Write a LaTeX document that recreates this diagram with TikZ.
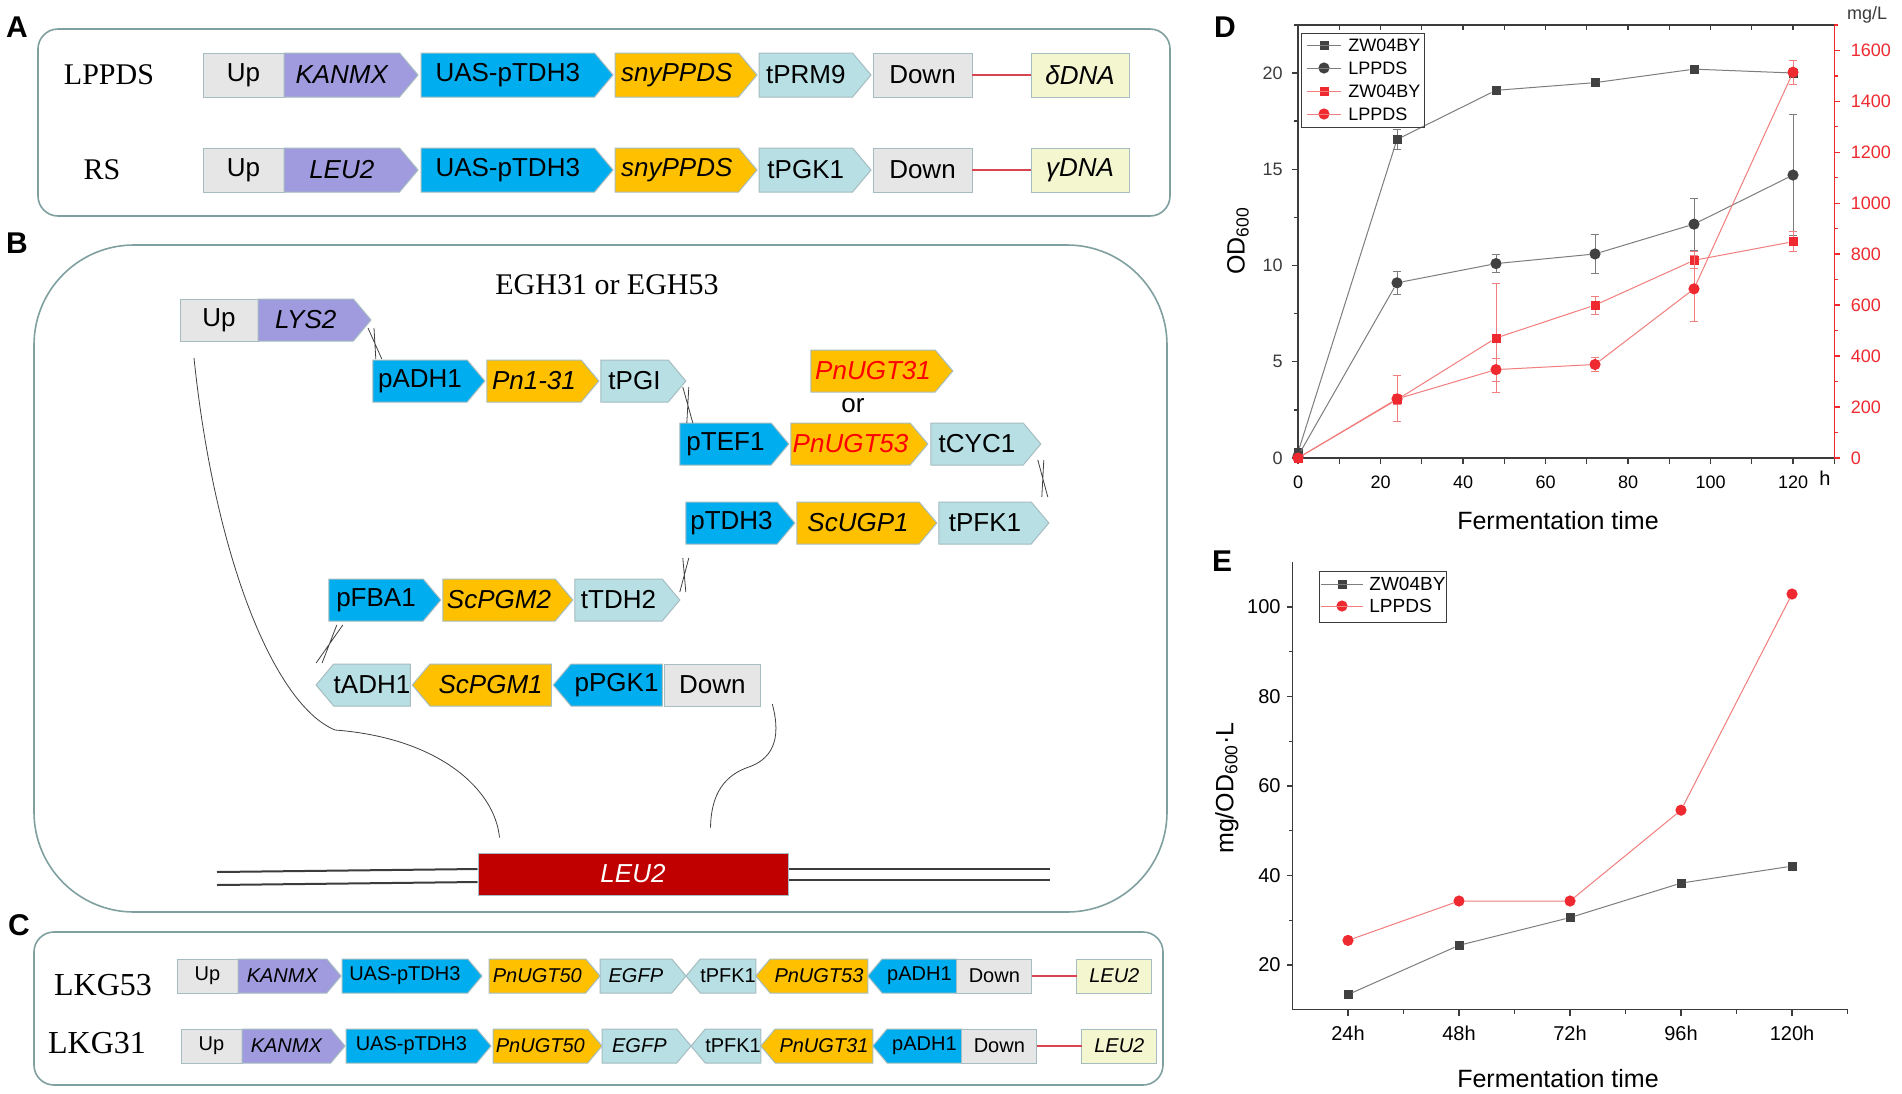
\documentclass[tikz,border=0pt]{standalone}
\usepackage{fontspec}
\setmainfont{Liberation Sans}
\newfontfamily\strainfont{Liberation Serif}
\usetikzlibrary{positioning,shapes.symbols}

\definecolor{flankgrey}{RGB}{230,230,230}
\definecolor{selpurple}{RGB}{160,155,222}
\definecolor{promblue}{RGB}{0,174,239}
\definecolor{cdsorange}{RGB}{255,192,0}
\definecolor{termcyan}{RGB}{183,223,228}
\definecolor{dnayellow}{RGB}{244,246,208}
\definecolor{partedge}{RGB}{165,188,192}
\definecolor{frameteal}{RGB}{128,160,160}
\definecolor{leured}{RGB}{192,0,0}
\definecolor{ugtred}{RGB}{255,0,0}
\definecolor{linkred}{RGB}{215,70,80}
\definecolor{axisgrey}{RGB}{60,60,60}
\definecolor{plotgrey}{RGB}{125,125,125}
\definecolor{markgrey}{RGB}{65,65,65}
\definecolor{plotred}{RGB}{238,42,48}
\definecolor{plotpink}{RGB}{242,125,125}

\tikzset{
  part/.style={draw=partedge, line width=0.5pt, inner sep=0pt, outer sep=0pt},
  fwd/.style={part, shape=signal, signal to=east, signal pointer angle=100},
  rev/.style={part, shape=signal, signal to=west, signal pointer angle=100},
  flank/.style={part, fill=flankgrey},
  selm/.style={fwd, fill=selpurple},
  prom/.style={fwd, fill=promblue},
  cds/.style={fwd, fill=cdsorange},
  term/.style={fwd, fill=termcyan},
  rprom/.style={rev, fill=promblue},
  rcds/.style={rev, fill=cdsorange},
  rterm/.style={rev, fill=termcyan},
  target/.style={part, fill=dnayellow},
  panel/.style={draw=frameteal, line width=0.8pt},
  tag/.style={font=\fontsize{15}{15}\selectfont\bfseries},
  strain/.style={font=\strainfont\fontsize{15}{15}\selectfont},
  joint/.style={draw=markgrey, line width=0.4pt},
  redlink/.style={draw=linkred, line width=0.8pt},
  dna/.style={draw=axisgrey, line width=1pt},
  axisline/.style={draw=axisgrey, line width=0.7pt},
  redaxis/.style={draw=plotred, line width=0.7pt},
  ticklbl/.style={font=\fontsize{9}{9}\selectfont, inner sep=1.5pt},
  axtitle/.style={font=\fontsize{12.5}{12.5}\selectfont},
  sqmark/.style={rectangle, minimum size=4.5pt, inner sep=0pt, outer sep=0pt},
  dotmark/.style={circle, minimum size=5.6pt, inner sep=0pt, outer sep=0pt},
  greyline/.style={draw=plotgrey, line width=0.5pt},
  pinkline/.style={draw=plotpink, line width=0.5pt},
  errgrey/.style={draw=plotgrey, line width=0.5pt},
  errpink/.style={draw=plotpink, line width=0.5pt},
}

\begin{document}
\begin{tikzpicture}[x=0.5pt, y=-0.5pt]
\fill[white] (0,0) rectangle (1902,1093);
\useasboundingbox (0,0) rectangle (1902,1093);

% ---------- A ----------
\node[tag] (tagA) at (17,27) {A};
\draw[panel, rounded corners=10pt] (38,29) rectangle (1170,216);
\node[strain] (lppds) at (109,75) {LPPDS};
\node[strain] (rs) at (102,170) {RS};
\begin{scope}[every node/.append style={minimum height=22pt, font=\fontsize{13}{15}\selectfont}]
  \node[flank, minimum width=40.5pt] (upA) at (243.5,75) {Up};
  \node[selm, minimum width=67pt, right=0pt of upA] (kanA) {\itshape KANMX};
  \node[prom, minimum width=96pt, right=1.5pt of kanA] (uasA) {UAS-pTDH3};
  \node[cds, minimum width=71pt, right=1pt of uasA] (ppdsA) {\itshape snyPPDS};
  \node[term, minimum width=56pt, right=1pt of ppdsA] (tprmA) {tPRM9};
  \node[flank, minimum width=49.5pt, right=1pt of tprmA] (downA) {Down};
  \node[target, minimum width=49pt, right=29.5pt of downA] (deltaA) {\itshape δDNA};
  \draw[redlink] (downA) -- (deltaA);

  \node[flank, minimum width=40.5pt] (upR) at (243.5,170) {Up};
  \node[selm, minimum width=67pt, right=0pt of upR] (leuR) {\itshape LEU2};
  \node[prom, minimum width=96pt, right=1.5pt of leuR] (uasR) {UAS-pTDH3};
  \node[cds, minimum width=71pt, right=1pt of uasR] (ppdsR) {\itshape snyPPDS};
  \node[term, minimum width=56pt, right=1pt of ppdsR] (tpgkR) {tPGK1};
  \node[flank, minimum width=49.5pt, right=1pt of tpgkR] (downR) {Down};
  \node[target, minimum width=49pt, right=29.5pt of downR] (gammaR) {\itshape γDNA};
  \draw[redlink] (downR) -- (gammaR);
\end{scope}

% ---------- B ----------
\node[tag] (tagB) at (17,243) {B};
\draw[panel, rounded corners=50pt] (34,245) rectangle (1167,912);
\node[strain] (egh) at (607,285) {EGH31 or EGH53};
\begin{scope}[every node/.append style={minimum height=21pt, font=\fontsize{13}{15}\selectfont}]
  \node[flank, minimum width=39pt] (upB) at (219,320) {Up};
  \node[selm, minimum width=56.5pt, right=0pt of upB] (lysB) {\itshape LYS2};

  \node[prom, minimum width=56pt] (padhB) at (420,381) {pADH1};
  \node[cds, minimum width=56pt, right=1pt of padhB] (pn131B) {\itshape Pn1-31};
  \node[term, minimum width=42.5pt, right=1pt of pn131B] (tpgiB) {tPGI};

  \node[cds, minimum width=71pt] (ugt31B) at (873,371) {\color{ugtred}\itshape PnUGT31};
  \node (orB) at (853,406) {or};

  \node[prom, minimum width=54.5pt] (ptefB) at (725.5,444) {pTEF1};
  \node[cds, minimum width=68.5pt, right=1pt of ptefB] (ugt53B) {\color{ugtred}\itshape PnUGT53};
  \node[term, minimum width=55pt, right=1.5pt of ugt53B] (tcycB) {tCYC1};

  \node[prom, minimum width=54.5pt] (ptdhB) at (731.5,523) {pTDH3};
  \node[cds, minimum width=70pt, right=1pt of ptdhB] (ugp1B) {\itshape ScUGP1};
  \node[term, minimum width=55pt, right=1pt of ugp1B] (tpfkB) {tPFK1};

  \node[prom, minimum width=56pt] (pfbaB) at (376,600) {pFBA1};
  \node[cds, minimum width=65pt, right=1pt of pfbaB] (pgm2B) {\itshape ScPGM2};
  \node[term, minimum width=52.5pt, right=1pt of pgm2B] (ttdhB) {tTDH2};

  \node[rterm, minimum width=44pt] (tadhB) at (372,685) {tADH1};
  \node[rcds, minimum width=69.5pt, right=1pt of tadhB] (pgm1B) {\itshape ScPGM1};
  \node[rprom, minimum width=54.5pt, right=1pt of pgm1B] (ppgkB) {pPGK1};
  \node[flank, minimum width=48pt, right=1pt of ppgkB] (downB) {Down};

  \node[fill=leured, draw=partedge, line width=0.5pt, minimum width=155pt, text=white] (leuB) at (633,874) {\itshape LEU2};
\end{scope}

% joints between cassettes
\draw[joint] ([xshift=-1.5pt,yshift=-4pt]lysB.east) -- ([xshift=4.5pt,yshift=11pt]padhB.west)
             ([xshift=1.5pt,yshift=-4pt]lysB.east) -- ([xshift=1.5pt,yshift=11pt]padhB.west);
\draw[joint] ([xshift=-1.5pt,yshift=-3pt]tpgiB.east) -- ([xshift=6.5pt,yshift=10.5pt]ptefB.west)
             ([xshift=1.5pt,yshift=-3pt]tpgiB.east) -- ([xshift=3.5pt,yshift=10.5pt]ptefB.west);
\draw[joint] ([xshift=-1.5pt,yshift=-8pt]tcycB.east) -- ([xshift=-0.5pt,yshift=13pt]tpfkB.east)
             ([xshift=1.5pt,yshift=-8pt]tcycB.east) -- ([xshift=-3.5pt,yshift=13pt]tpfkB.east);
\draw[joint] ([xshift=-1.5pt,yshift=-17.5pt]ptdhB.west) -- ([xshift=3pt,yshift=4pt]ttdhB.east)
             ([xshift=1.5pt,yshift=-17.5pt]ptdhB.west) -- ([xshift=0pt,yshift=4pt]ttdhB.east);
\draw[joint] ([xshift=4pt,yshift=-12.5pt]pfbaB.west) -- ([xshift=3pt,yshift=11pt]tadhB.west)
             ([xshift=7pt,yshift=-12.5pt]pfbaB.west) -- ([xshift=0pt,yshift=11pt]tadhB.west);

% homologous arms to the LEU2 locus
\draw[joint] ([xshift=7pt,yshift=-8.5pt]upB.south west) .. controls (215,560) and (275,705) .. (335,730)
  .. controls (440,738) and (495,790) .. ([xshift=11pt,yshift=7.5pt]leuB.north west);
\draw[joint] ([xshift=6pt,yshift=1pt]downB.south east) .. controls (782,740) and (772,760) .. (746,768)
  .. controls (720,778) and (711,800) .. ([xshift=116.5pt,yshift=12.5pt]leuB.north west);
\draw[dna] ([yshift=2.5pt]leuB.west) -- (217,872);
\draw[dna] ([yshift=-4pt]leuB.west) -- (217,885);
\draw[dna] ([yshift=2.5pt]leuB.east) -- (1050,869);
\draw[dna] ([yshift=-3pt]leuB.east) -- (1050,880);

% ---------- C ----------
\node[tag] (tagC) at (19,925) {C};
\draw[panel, rounded corners=10pt] (34,932) rectangle (1163,1085);
\node[strain, font=\strainfont\fontsize{16}{16}\selectfont] (lkg53) at (103,985) {LKG53};
\node[strain, font=\strainfont\fontsize{16}{16}\selectfont] (lkg31) at (97,1043) {LKG31};
\begin{scope}[every node/.append style={minimum height=17pt, font=\fontsize{10}{12}\selectfont}]
  \node[flank, minimum width=30.5pt] (upC) at (207.5,976) {Up};
  \node[selm, minimum width=51.5pt, right=0pt of upC] (kanC) {\itshape KANMX};
  \node[prom, minimum width=70pt, right=0.5pt of kanC] (uasC) {UAS-pTDH3};
  \node[cds, minimum width=55.5pt, right=3.5pt of uasC] (ugt50C) {\itshape PnUGT50};
  \node[term, minimum width=43pt, right=0pt of ugt50C] (egfpC) {\itshape EGFP};
  \node[rterm, minimum width=34.5pt, right=0pt of egfpC] (tpfkC) {tPFK1};
  \node[rcds, minimum width=56pt, right=0pt of tpfkC] (ugt53C) {\itshape PnUGT53};
  \node[rprom, minimum width=44.5pt, right=0pt of ugt53C] (padhC) {pADH1};
  \node[flank, minimum width=37.5pt, right=0pt of padhC] (downC) {Down};
  \node[target, minimum width=37.5pt, right=22.5pt of downC] (leuC) {\itshape LEU2};
  \draw[redlink] (downC) -- (leuC);

  \node[flank, minimum width=30.5pt] (upD) at (211.5,1046) {Up};
  \node[selm, minimum width=51.5pt, right=0pt of upD] (kanD) {\itshape KANMX};
  \node[prom, minimum width=72.5pt, right=0.5pt of kanD] (uasD) {UAS-pTDH3};
  \node[cds, minimum width=54.5pt, right=1pt of uasD] (ugt50D) {\itshape PnUGT50};
  \node[term, minimum width=44.5pt, right=0pt of ugt50D] (egfpD) {\itshape EGFP};
  \node[rterm, minimum width=34pt, right=0pt of egfpD] (tpfkD) {tPFK1};
  \node[rcds, minimum width=56pt, right=0pt of tpfkD] (ugt31D) {\itshape PnUGT31};
  \node[rprom, minimum width=44.5pt, right=0pt of ugt31D] (padhD) {pADH1};
  \node[flank, minimum width=37.5pt, right=0pt of padhD] (downD) {Down};
  \node[target, minimum width=37.5pt, right=22.5pt of downD] (leuD) {\itshape LEU2};
  \draw[redlink] (downD) -- (leuD);
\end{scope}

% ---------- D ----------
\node[tag] (tagD) at (1225,27) {D};
\begin{scope}[shift={(1298,458)}, x=2.0625pt, y=9.625pt]
  \draw[axisline] (130,22.5) -- (0,22.5) -- (0,0) -- (130,0);
  \foreach \h in {0,20,...,120} {
    \draw[axisline] (\h,0) -- (\h,-0.31);
    \node[ticklbl, anchor=north] (dx\h) at (\h,-0.75) {\h};
  }
  \foreach \h in {10,30,...,130} \draw[axisline] (\h,0) -- (\h,-0.31);
  \foreach \h in {10,20,...,120} \draw[axisline] (\h,22.5) -- (\h,22.24);
  \foreach \v in {0,5,...,20} {
    \draw[axisline] (0,\v) -- (-1.45,\v);
    \node[ticklbl, text=axisgrey, anchor=east] (dl\v) at (-2.9,\v) {\v};
  }
  \foreach \v in {2.5,7.5,12.5,17.5,22.5} \draw[axisline] (0,\v) -- (-0.9,\v);
  % OD600, ZW04BY
  \foreach \h/\v/\e in {0/0.3/0, 24/16.55/0.5, 48/19.1/0.15, 72/19.5/0.15, 96/20.2/0.15, 120/20.0/0.15} {
    \draw[errgrey] (\h,\v-\e) -- (\h,\v+\e) (\h-1,\v-\e) -- (\h+1,\v-\e) (\h-1,\v+\e) -- (\h+1,\v+\e);
    \node[sqmark, fill=markgrey] (odz\h) at (\h,\v) {};
  }
  \draw[greyline] (odz0) -- (odz24) -- (odz48) -- (odz72) -- (odz96) -- (odz120);
  % OD600, LPPDS
  \foreach \h/\v/\e in {0/0.1/0, 24/9.1/0.6, 48/10.1/0.45, 72/10.6/1.0, 96/12.15/1.35, 120/14.7/3.15} {
    \draw[errgrey] (\h,\v-\e) -- (\h,\v+\e) (\h-1,\v-\e) -- (\h+1,\v-\e) (\h-1,\v+\e) -- (\h+1,\v+\e);
    \node[dotmark, fill=markgrey] (odl\h) at (\h,\v) {};
  }
  \draw[greyline] (odl0) -- (odl24) -- (odl48) -- (odl72) -- (odl96) -- (odl120);
  \begin{scope}[y=0.1274pt]
    \draw[redaxis] (130,0) -- (130,1700);
    \foreach \m in {0,200,...,1600} {
      \draw[redaxis] (130,\m) -- (131.45,\m);
      \node[ticklbl, text=plotred, anchor=west] (dr\m) at (133.2,\m) {\m};
    }
    \foreach \m in {100,300,...,1700} \draw[redaxis] (130,\m) -- (130.9,\m);
    % titre, ZW04BY
    \foreach \h/\v/\e in {0/0/0, 24/229/20, 48/471/212, 72/600/35, 96/776/33, 120/849/40} {
      \draw[errpink] (\h,\v-\e) -- (\h,\v+\e) (\h-1,\v-\e) -- (\h+1,\v-\e) (\h-1,\v+\e) -- (\h+1,\v+\e);
      \node[sqmark, fill=plotred] (mgz\h) at (\h,\v) {};
    }
    \draw[pinkline] (mgz0) -- (mgz24) -- (mgz48) -- (mgz72) -- (mgz96) -- (mgz120);
    % titre, LPPDS
    \foreach \h/\v/\e in {0/0/0, 24/232/90, 48/347/45, 72/367/27, 96/664/130, 120/1514/48} {
      \draw[errpink] (\h,\v-\e) -- (\h,\v+\e) (\h-1,\v-\e) -- (\h+1,\v-\e) (\h-1,\v+\e) -- (\h+1,\v+\e);
      \node[dotmark, fill=plotred] (mgl\h) at (\h,\v) {};
    }
    \draw[pinkline] (mgl0) -- (mgl24) -- (mgl48) -- (mgl72) -- (mgl96) -- (mgl120);
  \end{scope}
\end{scope}
\node[ticklbl, text=axisgrey] (unitD) at (1867,15) {mg/L};
\node[ticklbl, font=\fontsize{10}{10}\selectfont] (hourD) at (1825,478) {h};
\node[axtitle] (xtitleD) at (1558,521) {Fermentation time};
\node[axtitle, rotate=90] (ytitleD) at (1238,241) {OD\textsubscript{600}};
% legend D
\draw[draw=axisgrey, line width=0.5pt] (1301,33) rectangle (1424,127);
\node[sqmark, fill=markgrey] (lgd1) at (1324,45) {};
\node[dotmark, fill=markgrey] (lgd2) at (1324,68) {};
\node[sqmark, fill=plotred] (lgd3) at (1324,91) {};
\node[dotmark, fill=plotred] (lgd4) at (1324,114) {};
\draw[greyline] (1307,45) -- (1341,45) (1307,68) -- (1341,68);
\draw[pinkline] (1307,91) -- (1341,91) (1307,114) -- (1341,114);
\node[ticklbl, anchor=west] (lgt1) at (1345,45) {ZW04BY};
\node[ticklbl, anchor=west] (lgt2) at (1345,68) {LPPDS};
\node[ticklbl, anchor=west] (lgt3) at (1345,91) {ZW04BY};
\node[ticklbl, anchor=west] (lgt4) at (1345,114) {LPPDS};

% ---------- E ----------
\node[tag] (tagE) at (1222,561) {E};
\begin{scope}[shift={(1237,1054.5)}, x=55.5pt, y=2.2375pt]
  \draw[axisline] (0.5,110) -- (0.5,10) -- (5.5,10);
  \foreach \v in {20,40,...,100} {
    \draw[axisline] (0.5,\v) -- (0.446,\v);
    \node[ticklbl, font=\fontsize{10}{10}\selectfont, anchor=east] (el\v) at (0.423,\v) {\v};
  }
  \foreach \v in {30,50,...,90} \draw[axisline] (0.5,\v) -- (0.47,\v);
  \foreach \i/\t in {1/24h,2/48h,3/72h,4/96h,5/120h} {
    \draw[axisline] (\i,10) -- (\i,8.66);
    \node[ticklbl, font=\fontsize{10}{10}\selectfont, anchor=north] (ex\i) at (\i,7.04) {\t};
  }
  \foreach \i in {1.5,2.5,3.5,4.5,5.5} \draw[axisline] (\i,10) -- (\i,9.1);
  \foreach \i/\v in {1/13.4, 2/24.4, 3/30.6, 4/38.3, 5/42.1}
    \node[sqmark, fill=markgrey] (yz\i) at (\i,\v) {};
  \draw[greyline] (yz1) -- (yz2) -- (yz3) -- (yz4) -- (yz5);
  \foreach \i/\v in {1/25.5, 2/34.3, 3/34.3, 4/54.6, 5/102.9}
    \node[dotmark, fill=plotred] (yl\i) at (\i,\v) {};
  \draw[pinkline] (yl1) -- (yl2) -- (yl3) -- (yl4) -- (yl5);
\end{scope}
\node[axtitle] (xtitleE) at (1558,1079) {Fermentation time};
\node[axtitle, rotate=90] (ytitleE) at (1227,788) {mg/OD\textsubscript{600}·L};
% legend E
\draw[draw=axisgrey, line width=0.5pt] (1319,571) rectangle (1446,622);
\node[sqmark, fill=markgrey] (lge1) at (1342,584) {};
\node[dotmark, fill=plotred] (lge2) at (1342,606) {};
\draw[greyline] (1321,584) -- (1363,584);
\draw[pinkline] (1321,606) -- (1363,606);
\node[ticklbl, font=\fontsize{9.5}{9.5}\selectfont, anchor=west] (lget1) at (1366,584) {ZW04BY};
\node[ticklbl, font=\fontsize{9.5}{9.5}\selectfont, anchor=west] (lget2) at (1366,606) {LPPDS};
\end{tikzpicture}
\end{document}
